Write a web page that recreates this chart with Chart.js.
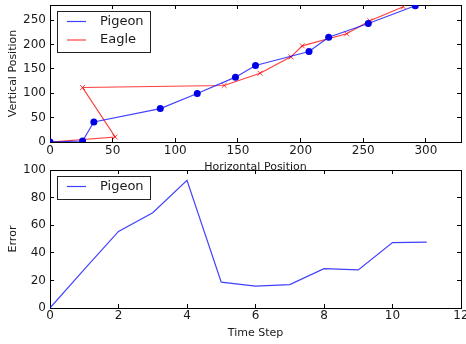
<!DOCTYPE html>
<html>
<head>
<meta charset="utf-8">
<script src="https://cdn.jsdelivr.net/npm/chart.js@4.4.0/dist/chart.umd.min.js"></script>
<style>
  html, body { margin: 0; padding: 0; background: #fff; }
  #wrap { position: relative; width: 466px; height: 344px; }
  #wrap canvas { position: absolute; left: 0; top: 0; }
</style>
</head>
<body>
<div id="wrap">
  <canvas id="grafico-error" width="466" height="344"></canvas>
  <canvas id="grafico-posicion" width="466" height="344"></canvas>
</div>
<script>
// Trayectorias (posición horizontal / vertical)
const pigeonX = [0, 26, 35, 88, 117.5, 148, 164, 206.7, 222.4, 254, 291.5];
const pigeonY = [0, 2, 41, 68.6, 99.4, 133, 157, 185.7, 215, 243, 279.4];
const eagleX = [0, 52, 26, 139, 167.6, 192.3, 201.3, 236.7, 255.3, 282];
const eagleY = [0, 10.3, 111.8, 115.9, 141.1, 174.6, 197.2, 221.9, 248.6, 277.3];

// Error del pigeon por paso de tiempo
const timeSteps = [0, 1, 2, 3, 4, 5, 6, 7, 8, 9, 10, 11];
const pigeonError = [0, 28, 55.5, 69, 92.5, 18.7, 15.8, 17, 28.5, 27.6, 47.4, 47.7];

const FONT = 'DejaVu Sans';
const TEXT = '#1a1a1a';
const BLUE_LINE = 'rgba(0, 0, 255, 0.75)';
const BLUE_DOT = '#0000e6';
const RED_LINE = 'rgba(255, 0, 0, 0.75)';

const toPoints = (xs, ys) => xs.map((x, i) => ({ x, y: ys[i] }));

// leyenda con marco dentro del área del gráfico
const legendEnCaja = {
    id: 'legendEnCaja',
    afterDatasetsDraw(chart) {
        const { ctx, chartArea } = chart;
        const sets = chart.data.datasets;
        const x0 = Math.round(chartArea.left + 7);
        const y0 = Math.round(chartArea.top + 6);
        const fila = 18.5;
        const h = Math.round(10.5 + (sets.length - 1) * fila + 12);
        ctx.save();
        ctx.fillStyle = '#fff';
        ctx.fillRect(x0, y0, 93, h);
        ctx.strokeStyle = '#222';
        ctx.lineWidth = 1;
        ctx.strokeRect(x0 + 0.5, y0 + 0.5, 93, h);
        sets.forEach((ds, i) => {
            const y = y0 + 10.5 + i * fila;
            ctx.strokeStyle = ds.borderColor;
            ctx.lineWidth = 1.2;
            ctx.beginPath();
            ctx.moveTo(x0 + 10, y);
            ctx.lineTo(x0 + 29, y);
            ctx.stroke();
            ctx.fillStyle = TEXT;
            ctx.font = `13px "${FONT}"`;
            ctx.textBaseline = 'middle';
            ctx.fillText(ds.label, x0 + 43, y);
        });
        ctx.restore();
    }
};

// ejes tipo marco: ticks hacia adentro en los cuatro lados
const ejeMarco = (position, min, max, step, opts = {}) => {
    const horizontal = position === 'top' || position === 'bottom';
    const conTexto = position === 'bottom' || position === 'left';
    return {
        type: 'linear',
        position,
        min, max,
        ticks: {
            display: conTexto,
            stepSize: step,
            includeBounds: false,
            maxRotation: 0,
            padding: opts.tickPadding || 6,
            color: TEXT,
            font: { family: FONT, size: 12 }
        },
        grid: { drawOnChartArea: false, tickLength: -4, tickColor: '#000', tickWidth: 1 },
        border: { color: '#000', width: 1 },
        title: opts.title ? {
            display: true,
            text: opts.title,
            color: TEXT,
            font: { family: FONT, size: 11 },
            padding: horizontal ? { top: 0, bottom: 0 } : { top: 6.5, bottom: 0 }
        } : { display: false },
        afterFit: (s) => {
            if (horizontal) s.height = opts.size || 0;
            else s.width = opts.size || 0;
            // sin márgenes extra por las etiquetas de los extremos
            s.paddingTop = s.paddingBottom = s.paddingLeft = s.paddingRight = 0;
        }
    };
};

const opcionesBase = (padding, scales) => ({
    responsive: false,
    animation: false,
    events: [],
    layout: { padding },
    plugins: { legend: { display: false }, tooltip: { enabled: false } },
    scales
});

new Chart(document.getElementById('grafico-posicion'), {
    type: 'scatter',
    data: {
        datasets: [
            {
                label: 'Pigeon',
                data: toPoints(pigeonX, pigeonY),
                showLine: true,
                clip: 0,
                borderColor: BLUE_LINE,
                borderWidth: 1.2,
                pointStyle: 'circle',
                pointRadius: 3.5,
                pointBackgroundColor: BLUE_DOT,
                pointBorderColor: BLUE_DOT,
                pointBorderWidth: 0
            },
            {
                label: 'Eagle',
                data: toPoints(eagleX, eagleY),
                showLine: true,
                clip: 0,
                borderColor: RED_LINE,
                borderWidth: 1.2,
                pointStyle: 'crossRot',
                pointRadius: 3.5,
                pointBorderColor: RED_LINE,
                pointBorderWidth: 1
            }
        ]
    },
    options: opcionesBase({ left: 0, top: 5, right: 5, bottom: 170 }, {
        x: ejeMarco('bottom', 0, 328, 50, { size: 32, title: 'Horizontal Position', tickPadding: 6 }),
        y: ejeMarco('left', 0, 281, 50, { size: 50, title: 'Vertical Position', tickPadding: 8 }),
        x2: ejeMarco('top', 0, 328, 50),
        y2: ejeMarco('right', 0, 281, 50)
    }),
    plugins: [legendEnCaja]
});

new Chart(document.getElementById('grafico-error'), {
    type: 'scatter',
    data: {
        datasets: [{
            label: 'Pigeon',
            data: toPoints(timeSteps, pigeonError),
            showLine: true,
            clip: 0,
            borderColor: BLUE_LINE,
            borderWidth: 1.2,
            pointRadius: 0
        }]
    },
    options: opcionesBase({ left: 0, top: 170, right: 5, bottom: 4 }, {
        x: ejeMarco('bottom', 0, 12, 2, { size: 32, title: 'Time Step', tickPadding: 5 }),
        y: ejeMarco('left', 0, 100, 20, { size: 50, title: 'Error', tickPadding: 8 }),
        x2: ejeMarco('top', 0, 12, 2),
        y2: ejeMarco('right', 0, 100, 20)
    }),
    plugins: [legendEnCaja]
});
</script>
</body>
</html>
